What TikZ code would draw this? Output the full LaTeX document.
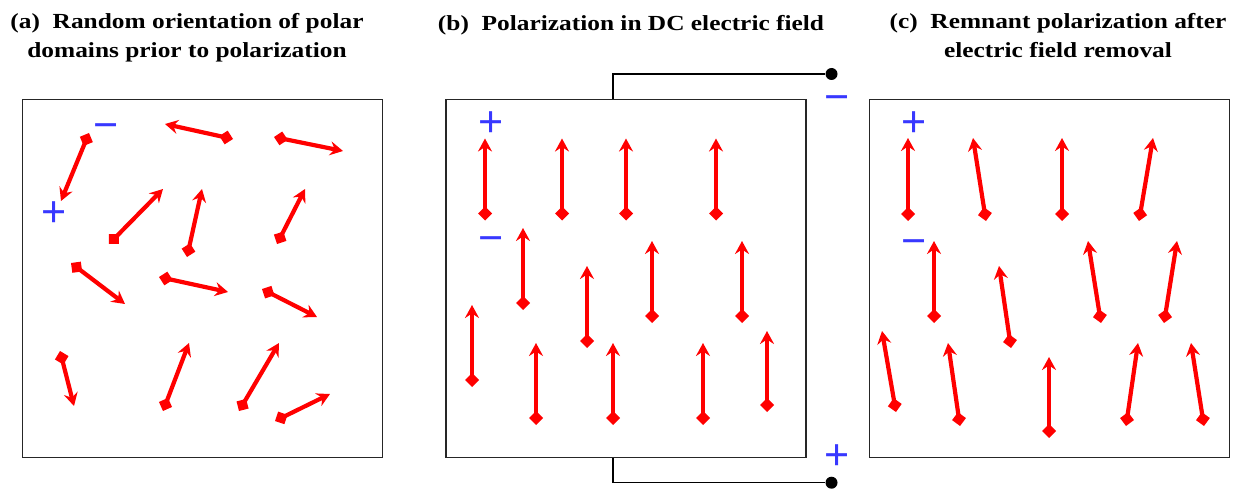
\documentclass[tikz,border=0pt]{standalone}
\usepackage{fontspec}
\usepackage{tikz}
\usetikzlibrary{arrows.meta}
\newfontfamily\titlefont[FakeStretch=1.18]{Liberation Serif}
\newfontfamily\signfont{Liberation Sans}
\definecolor{dipolered}{HTML}{FF0000}
\definecolor{chargeblue}{HTML}{3838FF}

\begin{document}
\begin{tikzpicture}[x=1pt,y=-1pt,
  panel/.style={draw=black!85,line width=1.4pt,minimum width=360pt,minimum height=358.4pt,inner sep=0pt},
  dipole/.style={dipolered,line width=4.2pt,{Diamond[length=14pt,width=14pt]}-{Stealth[length=13pt,width=14pt,inset=4.5pt]}},
  charge/.style={font=\signfont\fontsize{43}{43}\selectfont,text=chargeblue,inner sep=0pt},
  title/.style={font=\titlefont\fontsize{21.5}{29.5}\selectfont\bfseries,align=center,inner sep=0pt},
  wire/.style={draw=black,line width=1.4pt},
  terminal/.style={circle,fill=black,minimum size=12pt,inner sep=0pt}]
  \useasboundingbox (0,0) rectangle (1244,489);
  \node[title,anchor=north] (titlea) at (187,13) {(a)~~Random orientation of polar\\domains prior to polarization};
  \node[title,anchor=north] (titleb) at (631,15) {(b)~~Polarization in DC electric field};
  \node[title,anchor=north] (titlec) at (1058,13) {(c)~~Remnant polarization after\\electric field removal};
  \node[panel] (boxa) at (202.3,278.5) {};
  \node[panel] (boxb) at (626,278.5) {};
  \node[panel] (boxc) at (1049.5,278.5) {};
  \node[terminal] (dotm) at (831.5,74) {};
  \node[terminal] (dotp) at (831.5,482.7) {};
  \draw[wire] ([xshift=-13pt]boxb.north) |- (dotm);
  \draw[wire] ([xshift=-13pt]boxb.south) |- (dotp);
  \foreach \xa/\ya/\xb/\yb in {89/133/61/201,233/139/165/124,274/137/343/151,
    109/244/163/189,187/257/202/189,277/244/305/189,71/263/125/304,
    159/277/228/292,262/289/317/317,60/351/74/406,163/411/189/343,
    239/411/279/343,275/421/330/394}
    \draw[dipole] (\xa,\ya) -- (\xb,\yb);
  \foreach \xa/\ya/\xb/\yb in {485/220.5/485/138.5,562/220.5/562/138.5,
    626/220.5/626/138.5,716/220.5/716/138.5,523/310/523/228,587/348/587/266,
    652/323/652/241,742/323/742/241,472/387/472/305,536/425/536/343,
    613/425/613/343,703/425/703/343,767/412/767/331}
    \draw[dipole] (\xa,\ya) -- (\xb,\yb);
  \foreach \xa/\ya/\xb/\yb in {908/221/908/138,986/221/973/138,1062/221/1062/138,
    1139/221/1153/138,934/323/934/241,1011/348/999/266,1101/323/1088/241,
    1164/323/1177/241,896/412/882/331,960/426/948/343,1049/438/1049/357,
    1126/426/1138/343,1204/426/1191/343}
    \draw[dipole] (\xa,\ya) -- (\xb,\yb);
  \node[charge] (plusa) at (54.3,214) {+};
  \node[charge] (minusa) at (106,131.5) {−};
  \node[charge] (plusb) at (490.7,124.3) {+};
  \node[charge] (minusb) at (490.7,244.5) {−};
  \node[charge] (minusdot) at (837,104) {−};
  \node[charge] (plusdot) at (837.3,457) {+};
  \node[charge] (plusc) at (914.3,124.3) {+};
  \node[charge] (minusc) at (914.3,247.2) {−};
\end{tikzpicture}
\end{document}
